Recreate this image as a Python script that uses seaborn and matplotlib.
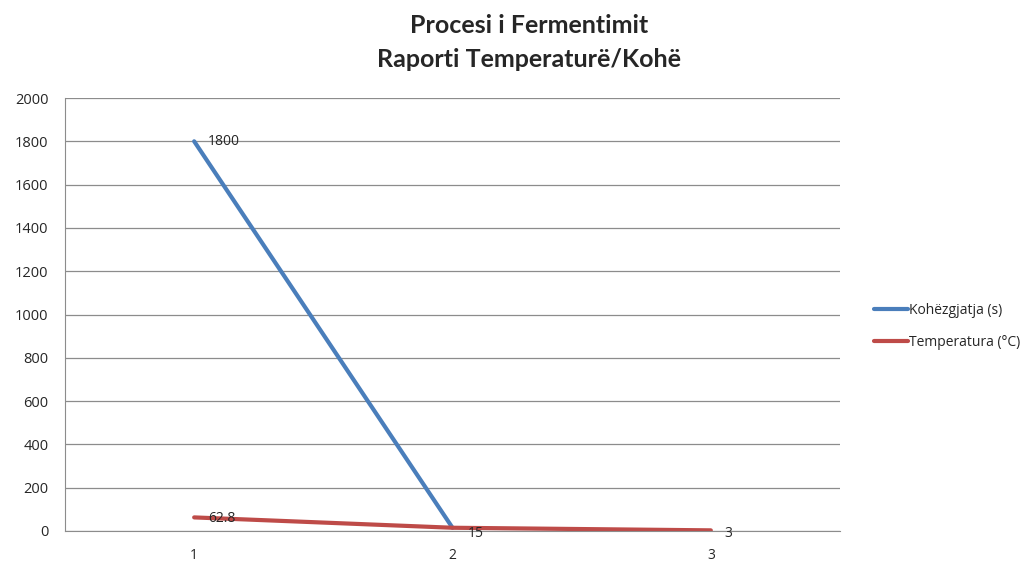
import pandas as pd
import matplotlib.pyplot as plt
import seaborn as sns

# te dhenat e grafikut
hapat = [1, 2, 3]
kohezgjatja = [1800, 15, None]
temperatura = [62.8, 15, 3]
etiketa_blu = ["1800", "15", ""]
etiketa_kuq = ["62.8", "", "3"]

sns.set_style("white")
plt.rcParams['font.family'] = ['Open Sans', 'DejaVu Sans']

df = pd.DataFrame({'hapi': hapat,
                   'Kohëzgjatja (s)': kohezgjatja,
                   'Temperatura (°C)': temperatura})
long = df.melt(id_vars='hapi', var_name='seria', value_name='vlera').dropna()

fig = plt.figure(figsize=(10.36, 5.63), dpi=100)
ax = fig.add_axes([65 / 1036, 32 / 563, 775 / 1036, 433 / 563])

sns.lineplot(data=long, x='hapi', y='vlera', hue='seria',
             palette=['#4a7ebb', '#be4b48'], linewidth=3, ax=ax)

# etiketat e te dhenave (zhvendosjet ne pike)
zhvendosje_blu = [(10, 0), (11, -4), (0, 0)]
zhvendosje_kuq = [(10, -1), (0, 0), (10, -2)]
for x, y, t, d in zip(hapat, kohezgjatja, etiketa_blu, zhvendosje_blu):
    if t:
        ax.annotate(t, (x, y), xytext=d, textcoords='offset points',
                    fontsize=10, va='center')
for x, y, t, d in zip(hapat, temperatura, etiketa_kuq, zhvendosje_kuq):
    if t:
        ax.annotate(t, (x, y), xytext=d, textcoords='offset points',
                    fontsize=10, va='center')

ax.set_xlim(0.5, 3.5)
ax.set_ylim(0, 2000)
ax.set_xticks(hapat)
ax.set_yticks(range(0, 2001, 200))
ax.grid(axis='y', color='#8c8c8c', linewidth=0.9)
ax.set_axisbelow(True)
for s in ['top', 'right']:
    ax.spines[s].set_visible(False)
for s in ['left', 'bottom']:
    ax.spines[s].set_color('#8c8c8c')
ax.tick_params(axis='y', length=2, color='#8c8c8c', labelsize=10.5, pad=10)
ax.tick_params(axis='x', length=0, labelsize=10, pad=12)
ax.set_xlabel('')
ax.set_ylabel('')

ax.legend(loc='center left', bbox_to_anchor=(0.832, 0.42),
          bbox_transform=fig.transFigure, frameon=False,
          fontsize=10, handlelength=2.4, handletextpad=0.1, labelspacing=1.2)

fig.text(0.5105, 0.975, 'Procesi i Fermentimit\nRaporti Temperaturë/Kohë',
         ha='center', va='top', fontsize=18, fontweight='bold',
         linespacing=1.6, family=['Lato', 'DejaVu Sans'])

fig.savefig('out.png', dpi=100)
